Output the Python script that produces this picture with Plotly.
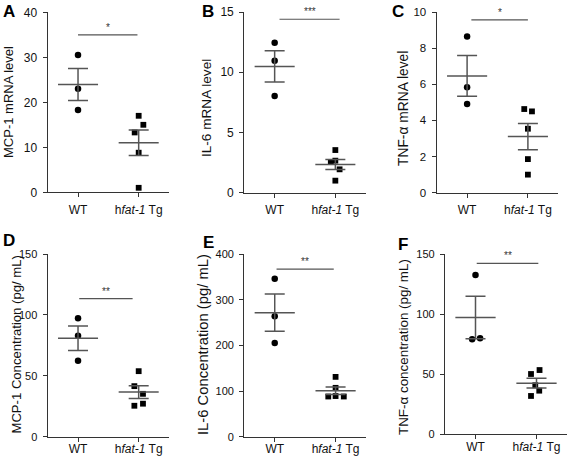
import numpy as np
import plotly.graph_objects as go

# ---------------- data ----------------
groups = ["WT", "h<i>fat-1</i> Tg"]

mcp1_mrna_wt = [30.5, 23.0, 18.3]
mcp1_mrna_tg = [17.0, 15.0, 13.3, 8.8, 1.0]

il6_mrna_wt = [12.45, 10.96, 8.03]
il6_mrna_tg = [3.54, 2.55, 2.66, 1.94, 1.0]

tnfa_mrna_wt = [8.65, 5.83, 4.91]
tnfa_mrna_tg = [4.63, 4.5, 3.54, 1.86, 1.0]

mcp1_conc_wt = [97.2, 82.9, 62.4]
mcp1_conc_tg = [53.8, 41.5, 35.2, 25.4, 27.1]

il6_conc_wt = [346.0, 263.6, 205.0]
il6_conc_tg = [131.0, 107.0, 88.0, 89.0, 88.0]

tnfa_conc_wt = [132.5, 78.9, 79.7]
tnfa_conc_tg = [50.0, 53.3, 40.6, 36.1, 31.7]

panel_letters = ["A", "B", "C", "D", "E", "F"]
y_titles = ["MCP-1 mRNA level", "IL-6 mRNA level", "TNF-\u03b1 mRNA level",
            "MCP-1 Concentration (pg/ mL)", "IL-6 Concentration (pg/ mL)",
            "TNF-\u03b1 concentration (pg/ mL)"]
y_max = [40, 15, 10, 150, 400, 150]
y_dtick = [10, 5, 2, 50, 100, 50]
sig_labels = ["*", "***", "*", "**", "**", "**"]
sig_level = [35.0, 14.4, 9.56, 113.3, 367.0, 142.2]

# ---------------- layout geometry (pixels) ----------------
W, H = 567, 458
# x0, x1, ytop, ybottom of each plot area
boxes = [
    (47.7, 169.0, 12.3, 192.3),
    (244.3, 365.7, 12.0, 192.7),
    (436.7, 558.3, 12.0, 192.7),
    (47.7, 169.0, 254.0, 436.7),
    (244.3, 366.0, 254.0, 436.7),
    (445.0, 567.0, 254.0, 434.0),
]
letter_pos = [(9, 11.5), (208, 12), (398, 12), (9, 240.5), (208.5, 242), (402.5, 244)]
title_pos = [(8.5, 102.5), (206, 108), (403, 109), (16, 344.5), (203, 345), (403, 347)]
title_size = [13, 13.6, 13.8, 13.1, 14.8, 13.4]
ytick_size = [12, 12, 11.5, 11, 11, 11]
# jitter offsets (category units) used to separate overlapping points
jit_wt = [[0, 0, 0], [0, 0, 0], [0, 0, 0], [0, 0, 0], [0, 0, 0], [0, -0.055, 0.075]]
jit_tg = [[0, 0.077, -0.066, 0, 0], [0, -0.075, 0.0, 0.07, 0], [-0.06, 0.067, 0, 0, 0],
          [0, -0.071, 0.071, -0.071, 0.071], [0, 0, -0.12, 0, 0.135],
          [-0.09, 0.05, -0.02, 0.045, -0.09]]
sig_x = [(0.0, 0.98), (0.08, 1.07), (0.07, 1.0), (0.02, 0.9), (0.03, 0.97), (0.02, 1.03)]

wt_sets = [mcp1_mrna_wt, il6_mrna_wt, tnfa_mrna_wt, mcp1_conc_wt, il6_conc_wt, tnfa_conc_wt]
tg_sets = [mcp1_mrna_tg, il6_mrna_tg, tnfa_mrna_tg, mcp1_conc_tg, il6_conc_tg, tnfa_conc_tg]

FONT = "Liberation Sans, Arial, sans-serif"
LINE = "#333333"
MEANC = "#555555"
TXT = "#111111"

fig = go.Figure()
layout = dict(width=W, height=H, margin=dict(l=0, r=0, t=0, b=0, pad=0, autoexpand=False),
              paper_bgcolor="white", plot_bgcolor="white", showlegend=False,
              font=dict(family=FONT, color=TXT, size=12))
annotations = []
shapes = []

for i in range(6):
    n = i + 1
    xa = "x" if n == 1 else f"x{n}"
    ya = "y" if n == 1 else f"y{n}"
    x0, x1, yt, yb = boxes[i]
    row_bottom = i >= 3
    layout["xaxis" if n == 1 else f"xaxis{n}"] = dict(
        domain=[x0 / W, x1 / W], anchor=ya, range=[-0.5, 1.5], automargin=False,
        tickmode="array", tickvals=[0, 1], ticktext=groups,
        showline=True, linecolor=LINE, linewidth=1.3, ticks="outside", ticklen=4,
        tickcolor=LINE, tickwidth=1.3, showgrid=False, zeroline=False,
        tickfont=dict(family=FONT, size=12, color=TXT),
        ticklabelstandoff=-3 if row_bottom else 2, fixedrange=True)
    layout["yaxis" if n == 1 else f"yaxis{n}"] = dict(
        domain=[1 - yb / H, 1 - yt / H], anchor=xa, range=[0, y_max[i]], automargin=False,
        tick0=0, dtick=y_dtick[i], showline=True, linecolor=LINE, linewidth=1.3,
        ticks="outside", ticklen=4, tickcolor=LINE, tickwidth=1.3,
        showgrid=False, zeroline=False,
        tickfont=dict(family=FONT, size=ytick_size[i], color=TXT),
        ticklabelstandoff=3, fixedrange=True)

    for g, (vals, jit, sym, sz) in enumerate([(wt_sets[i], jit_wt[i], "circle", 6.5),
                                              (tg_sets[i], jit_tg[i], "square", 5.8)]):
        v = np.array(vals, dtype=float)
        m = v.mean()
        sem = v.std(ddof=1) / np.sqrt(len(v))
        # points
        fig.add_trace(go.Scatter(x=[g + j for j in jit], y=v, mode="markers", xaxis=xa, yaxis=ya,
                                 marker=dict(symbol=sym, size=sz, color="black"),
                                 cliponaxis=False, hoverinfo="skip"))
        # mean line
        fig.add_trace(go.Scatter(x=[g - 0.33, g + 0.33], y=[m, m], mode="lines", xaxis=xa, yaxis=ya,
                                 line=dict(color=MEANC, width=1.5), hoverinfo="skip"))
        # SEM
        fig.add_trace(go.Scatter(x=[g], y=[m], mode="markers", xaxis=xa, yaxis=ya,
                                 marker=dict(size=0.1, color="rgba(0,0,0,0)"),
                                 error_y=dict(type="data", array=[sem], visible=True,
                                              color=MEANC, thickness=1.5, width=10),
                                 hoverinfo="skip"))

    # significance bar
    sx0, sx1 = sig_x[i]
    shapes.append(dict(type="line", xref=xa, yref=ya, x0=sx0, x1=sx1,
                       y0=sig_level[i], y1=sig_level[i], line=dict(color=MEANC, width=1.2)))
    annotations.append(dict(xref=xa, yref=ya, x=(sx0 + sx1) / 2, y=sig_level[i],
                            text=sig_labels[i], showarrow=False, yanchor="bottom", yshift=0,
                            font=dict(family=FONT, size=10, color="#333")))
    # panel letter
    lx, ly = letter_pos[i]
    annotations.append(dict(xref="paper", yref="paper", x=lx / W, y=1 - ly / H,
                            text=f"<b>{panel_letters[i]}</b>", showarrow=False,
                            xanchor="center", yanchor="middle",
                            font=dict(family=FONT, size=17, color="black")))
    # y axis title
    tx, ty = title_pos[i]
    annotations.append(dict(xref="paper", yref="paper", x=tx / W, y=1 - ty / H,
                            text=y_titles[i], showarrow=False, textangle=-90,
                            xanchor="center", yanchor="middle",
                            font=dict(family=FONT, size=title_size[i], color=TXT)))

layout["annotations"] = annotations
layout["shapes"] = shapes
fig.update_layout(**layout)
fig.write_html("out.html", config={"displayModeBar": False},
               post_script="document.body.style.margin='0';document.body.style.padding='0';")
